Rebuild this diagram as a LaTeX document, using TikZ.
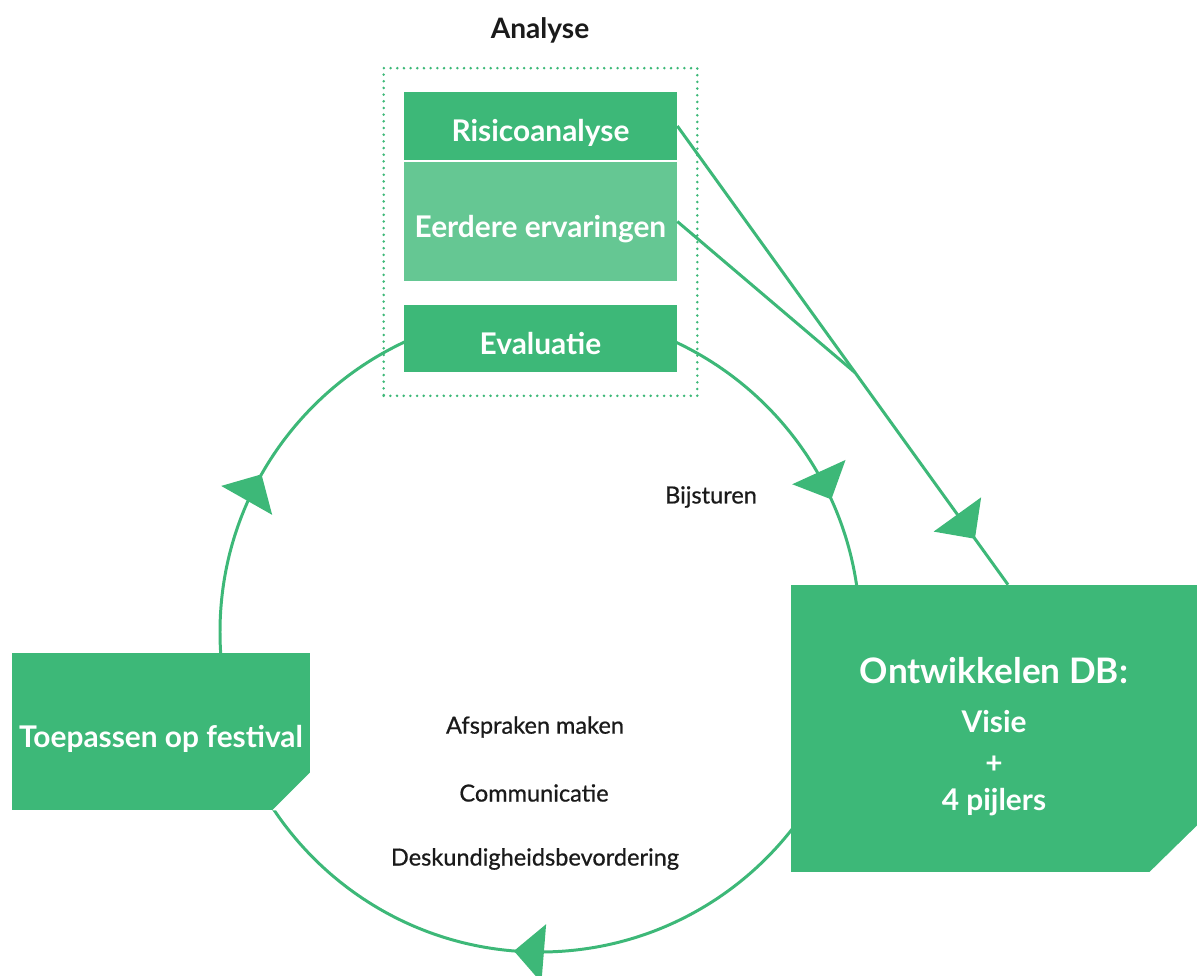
\documentclass[tikz,border=0pt]{standalone}
\usepackage{fontspec}
\setmainfont{Lato}
\newfontfamily\medfont{Lato}[FakeBold=0.7]
\usepackage{tikz}
\usetikzlibrary{arrows.meta,decorations.markings,fit,calc}
\definecolor{GreenDB}{HTML}{3DB878}
\definecolor{LightGreenDB}{HTML}{65C793}
\definecolor{TextDB}{HTML}{1A1A1A}
\newcommand\noderisk{Risicoanalyse}
\newcommand\nodeexp{Eerdere ervaringen}
\newcommand\nodeeval{Evaluatie}
\newcommand\nodeanalyse{Analyse}
\newcommand\nodeapply{Toepassen op festival}
\newcommand\nodesteer{Bijsturen}
\newcommand\nodeagree{Afspraken maken}
\newcommand\nodecomm{Communicatie}
\newcommand\nodeexpert{Deskundigheidsbevordering}
\tikzstyle{boxstyle} = [rectangle, inner sep=0pt, text=white, text height=18pt, text depth=0pt, font=\bfseries\fontsize{17}{22}\selectfont]
\tikzstyle{gb} = [boxstyle, draw=none, fill=GreenDB]
\tikzstyle{lb} = [boxstyle, draw=none, fill=LightGreenDB]
\tikzstyle{lbl} = [text=TextDB, font=\medfont\fontsize{13.4}{16}\selectfont]
\tikzstyle{toplbl} = [text=TextDB, font=\bfseries\fontsize{16}{19}\selectfont]
\tikzstyle{ringline} = [draw=GreenDB, line width=1.7pt]
\tikzstyle{dotframe} = [draw=GreenDB, line width=1.6pt, dash pattern=on 0pt off 3.8pt, line cap=round, inner xsep=0.4cm, inner ysep=0.47cm]
\tikzset{tip at/.style={postaction={decorate, decoration={markings,
  mark=at position #1 with {\arrow{Triangle[length=0.6cm, width=1.16cm]}}}}}}

\begin{document}
\begin{tikzpicture}[x=0.02cm, y=-0.02cm]
\useasboundingbox (0,0) rectangle (1197,976);
\draw[ringline, tip at=0.263, tip at=0.582, tip at=0.932] (540,632) circle [radius=320];
\node[gb, minimum width=5.46cm, minimum height=1.36cm] (risk) at (540.5,126) {\noderisk};
\node[lb, minimum width=5.46cm, minimum height=2.38cm] (exp) at (540.5,221.5) {\nodeexp};
\node[gb, minimum width=5.46cm, minimum height=1.34cm] (eval) at (540.5,338.5) {\nodeeval};
\node[dotframe, fit=(risk)(exp)(eval)] (analysis) {};
\node[toplbl] (analyse) at (540,30) {\nodeanalyse};
\node[gb, minimum width=8.12cm, minimum height=5.74cm, align=center, text height=93pt, text depth=0pt] (dev) at (994,728.5)
  {{\fontsize{20}{24}\selectfont Ontwikkelen DB:}\\[6pt] Visie\\[1pt] +\\[-1pt] 4 pijlers};
\fill[white] (dev.south east) -- ++(0,-47) -- ++(-48,47) -- cycle;
\node[gb, minimum width=5.96cm, minimum height=3.14cm] (apply) at (161,731.5) {\nodeapply};
\fill[white] (apply.south east) -- ++(0,-38) -- ++(-38,38) -- cycle;
\coordinate (join) at ($(risk.east)!0.538!([xshift=0.28cm]dev.north)$);
\draw[ringline, tip at=0.9] (risk.east) -- ([xshift=0.28cm]dev.north);
\draw[ringline] (exp.east) -- (join);
\node[lbl] (steer) at (711,497) {\nodesteer};
\node[lbl] (agree) at (535,727) {\nodeagree};
\node[lbl] (comm) at (534,793) {\nodecomm};
\node[lbl] (expert) at (535,859) {\nodeexpert};
\end{tikzpicture}
\end{document}
